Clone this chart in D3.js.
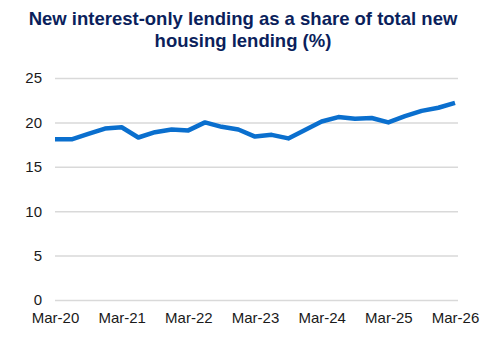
<!DOCTYPE html>
<html><head><meta charset="utf-8">
<script src="https://cdn.jsdelivr.net/npm/d3@7"></script>
<style>body{margin:0;background:#fff}</style>
</head><body>
<script>
const quarters = ["Mar-20","Jun-20","Sep-20","Dec-20","Mar-21","Jun-21","Sep-21","Dec-21","Mar-22","Jun-22","Sep-22","Dec-22","Mar-23","Jun-23","Sep-23","Dec-23","Mar-24","Jun-24","Sep-24","Dec-24","Mar-25","Jun-25","Sep-25","Dec-25","Mar-26"];
const values = [18.1,18.1,18.7,19.3,19.45,18.3,18.9,19.2,19.1,20.0,19.5,19.2,18.4,18.6,18.2,19.15,20.1,20.6,20.4,20.5,20.0,20.7,21.3,21.65,22.2];
const yTicks = [0,5,10,15,20,25];
const xLabels = ["Mar-20","Mar-21","Mar-22","Mar-23","Mar-24","Mar-25","Mar-26"];
const titleLines = ["New interest-only lending as a share of total new","housing lending (%)"];

const W=486,H=343;
const svg=d3.select("body").append("svg").attr("width",W).attr("height",H);
const x=d3.scalePoint().domain(quarters).range([55,455]);
const y=d3.scaleLinear().domain([0,25]).range([300,78]);

svg.selectAll("text.title").data(titleLines).join("text")
  .attr("x",243).attr("y",(d,i)=>25+i*21.5).attr("text-anchor","middle")
  .attr("font-family","Liberation Sans, Arial, sans-serif").attr("font-weight","bold")
  .attr("font-size",18.5).attr("fill","#0b1f5c").text(d=>d);

const yAxis=svg.append("g").attr("transform","translate(55,0)")
  .call(d3.axisLeft(y).tickValues(yTicks).tickSize(-403).tickPadding(13));
yAxis.select(".domain").remove();
yAxis.selectAll("line").attr("stroke","#d9d9d9").attr("stroke-width",1.5);
yAxis.selectAll("text").attr("font-family","Liberation Sans, Arial, sans-serif").attr("font-size",15).attr("fill","#1a1a1a");

const xAxis=svg.append("g").attr("transform","translate(0,300)")
  .call(d3.axisBottom(x).tickValues(xLabels).tickSize(0).tickPadding(12));
xAxis.select(".domain").remove();
xAxis.selectAll("text").attr("font-family","Liberation Sans, Arial, sans-serif").attr("font-size",15).attr("fill","#1a1a1a");

svg.append("path").datum(values)
  .attr("fill","none").attr("stroke","#0a6fce").attr("stroke-width",4.5)
  .attr("stroke-linejoin","round").attr("stroke-linecap","butt")
  .attr("d",d3.line().x((d,i)=>x(quarters[i])).y(d=>y(d)));
</script>
</body></html>
